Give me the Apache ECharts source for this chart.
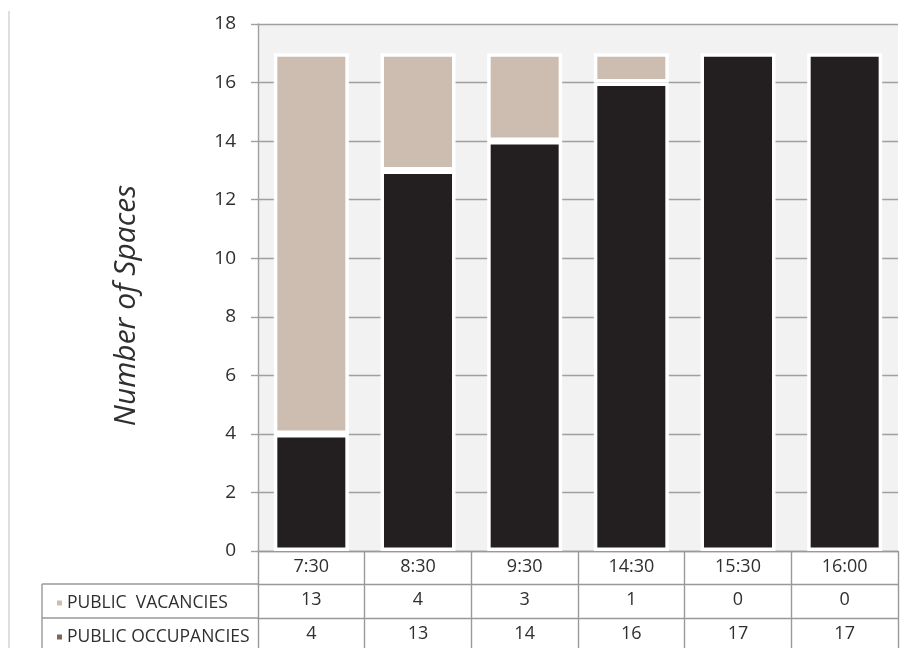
<!DOCTYPE html>
<html>
<head>
<meta charset="utf-8">
<script src="https://cdn.jsdelivr.net/npm/echarts@6/dist/echarts.min.js"></script>
<style>
html,body{margin:0;padding:0;background:#fff;}
#chart{width:903px;height:648px;}
</style>
</head>
<body>
<div id="chart"></div>
<script>
const categories = ['7:30', '8:30', '9:30', '14:30', '15:30', '16:00'];
const vacancies = [13, 4, 3, 1, 0, 0];
const occupancies = [4, 13, 14, 16, 17, 17];
const yTicks = { min: 0, max: 18, interval: 2 };
const vacName = 'PUBLIC  VACANCIES';
const occName = 'PUBLIC OCCUPANCIES';

const FONT = '"Open Sans", "Noto Sans", sans-serif';
const TXT = '#2f2f2f';
const LINE = '#a0a0a0';
const TABLE = '#999999';
const TAN = '#cdbdb0';
const DARK = '#231f20';
const OCC_LEGEND = '#7f6552';

const chart = echarts.init(document.getElementById('chart'), null, { renderer: 'canvas' });

function rowAxis(offset, values, tickLen) {
  return {
    type: 'category',
    gridIndex: 0,
    data: categories,
    position: 'bottom',
    offset: offset,
    boundaryGap: true,
    axisLine: { show: true, lineStyle: { color: TABLE, width: 1.4 } },
    axisTick: { show: true, interval: 0, length: tickLen, inside: false, lineStyle: { color: TABLE, width: 1.4 } },
    axisLabel: {
      interval: 0, margin: 7, color: TXT, fontSize: 18, fontFamily: FONT,
      formatter: (v, i) => values ? String(values[i]) : v
    },
    splitLine: { show: false }
  };
}

const option = {
  animation: false,
  backgroundColor: '#ffffff',
  textStyle: { fontFamily: FONT },
  grid: {
    left: 258, right: 5, top: 24, bottom: 97,
    show: true, backgroundColor: '#f2f2f2', borderWidth: 0,
    containLabel: false
  },
  legend: [
    {
      data: [{ name: vacName, itemStyle: { color: TAN } }],
      left: 50, top: 589, orient: 'horizontal',
      icon: 'rect', itemWidth: 7, itemHeight: 7, itemGap: 6,
      selectedMode: false,
      textStyle: { color: TXT, fontSize: 17.5, fontFamily: FONT, padding: [0, 0, 0, -1] }
    },
    {
      data: [{ name: occName, itemStyle: { color: OCC_LEGEND } }],
      left: 50, top: 623, orient: 'horizontal',
      icon: 'rect', itemWidth: 7, itemHeight: 7, itemGap: 6,
      selectedMode: false,
      textStyle: { color: TXT, fontSize: 17.5, fontFamily: FONT, padding: [0, 0, 0, -1] }
    }
  ],
  xAxis: [
    rowAxis(0, null, 33),
    rowAxis(33, vacancies, 34),
    rowAxis(67, occupancies, 40)
  ],
  yAxis: {
    type: 'value',
    min: yTicks.min, max: yTicks.max, interval: yTicks.interval,
    name: 'Number of Spaces',
    nameLocation: 'middle',
    nameGap: 117,
    nameTextStyle: { fontSize: 30, fontStyle: 'italic', color: TXT, fontFamily: FONT, padding: [0, 36, 0, 0] },
    axisLine: { show: true, lineStyle: { color: LINE, width: 1.4 } },
    axisTick: { show: true, length: 7, lineStyle: { color: LINE, width: 1.4 } },
    axisLabel: { margin: 22, color: TXT, fontSize: 19, fontFamily: FONT },
    splitLine: { show: true, lineStyle: { color: LINE, width: 1.4 } }
  },
  series: [
    {
      name: occName, type: 'bar', stack: 'total', xAxisIndex: 0,
      data: occupancies.map(v => v === 0 ? null : v),
      barWidth: 75,
      itemStyle: { color: DARK, borderColor: '#ffffff', borderWidth: 3.5 }
    },
    {
      name: vacName, type: 'bar', stack: 'total', xAxisIndex: 0,
      data: vacancies.map(v => v === 0 ? null : v),
      barWidth: 75,
      itemStyle: { color: TAN, borderColor: '#ffffff', borderWidth: 3.5 }
    }
  ],
  graphic: [
    { type: 'line', shape: { x1: 9, y1: 11, x2: 9, y2: 648 }, style: { stroke: '#d4d4d4', lineWidth: 1.5 } },
    { type: 'line', shape: { x1: 42, y1: 584, x2: 258, y2: 584 }, style: { stroke: TABLE, lineWidth: 1.4 } },
    { type: 'line', shape: { x1: 42, y1: 618, x2: 258, y2: 618 }, style: { stroke: TABLE, lineWidth: 1.4 } },
    { type: 'line', shape: { x1: 42, y1: 584, x2: 42, y2: 648 }, style: { stroke: TABLE, lineWidth: 1.4 } }
  ]
};
chart.setOption(option);
</script>
</body>
</html>
